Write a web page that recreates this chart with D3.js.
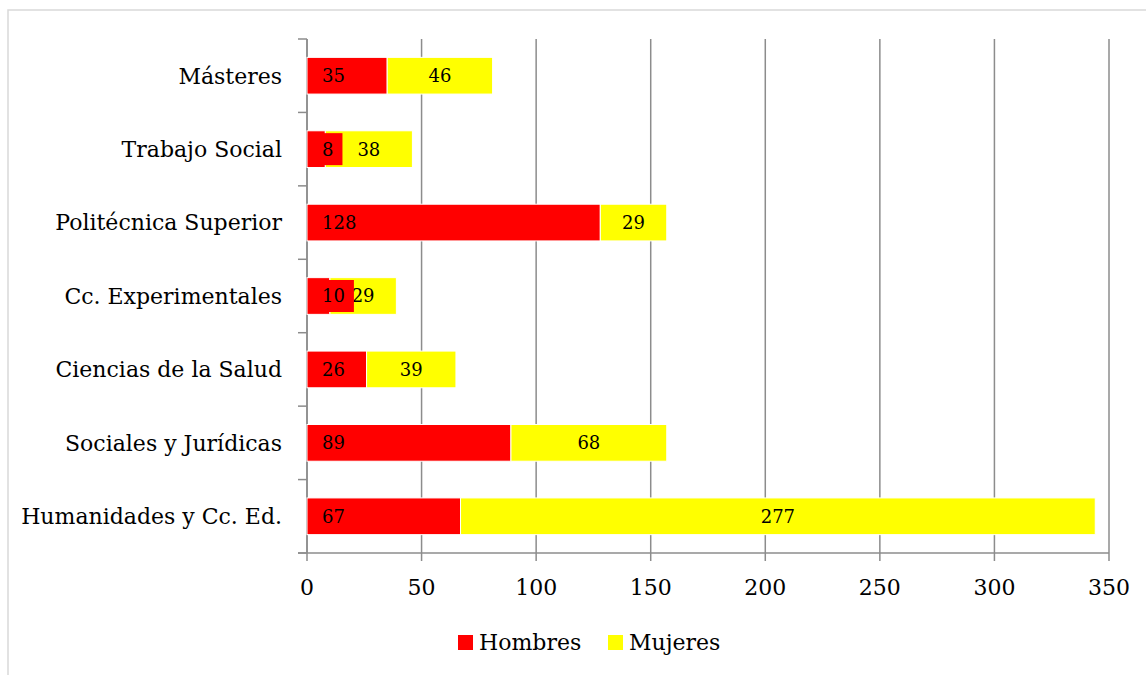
<!DOCTYPE html>
<html>
<head>
<meta charset="utf-8">
<script src="https://cdn.jsdelivr.net/npm/d3@7"></script>
<style>
  body { margin: 0; background: #fff; }
  text { font-family: "DejaVu Serif", serif; fill: #000; }
</style>
</head>
<body>
<svg id="chart" width="1146" height="675"></svg>
<script>
const categories = [
  "Másteres",
  "Trabajo Social",
  "Politécnica Superior",
  "Cc. Experimentales",
  "Ciencias de la Salud",
  "Sociales y Jurídicas",
  "Humanidades y Cc. Ed."
];
const hombres = [35, 8, 128, 10, 26, 89, 67];
const mujeres = [46, 38, 29, 29, 39, 68, 277];
const xTicks = [0, 50, 100, 150, 200, 250, 300, 350];
const seriesNames = ["Hombres", "Mujeres"];
const colors = ["#ff0000", "#ffff00"];

const svg = d3.select("#chart");
const plotLeft = 307, plotRight = 1109, plotTop = 39, plotBottom = 553;
const gridColor = "#8c8c8c";

// outer chart border
svg.append("rect")
  .attr("x", 8).attr("y", 10)
  .attr("width", 1160).attr("height", 700)
  .attr("fill", "none")
  .attr("stroke", "#d9d9d9")
  .attr("stroke-width", 1.5);

const x = d3.scaleLinear().domain([0, 350]).range([plotLeft, plotRight]);
const y = d3.scaleBand()
  .domain(categories)
  .range([plotTop, plotBottom])
  .paddingInner(0.5)
  .paddingOuter(0.25);

// vertical gridlines + x ticks
svg.selectAll(".grid")
  .data(xTicks)
  .join("line")
  .attr("x1", d => x(d)).attr("x2", d => x(d))
  .attr("y1", plotTop).attr("y2", plotBottom + 8)
  .attr("stroke", gridColor)
  .attr("stroke-width", 1.5);

svg.selectAll(".xlab")
  .data(xTicks)
  .join("text")
  .attr("x", d => x(d))
  .attr("y", 595)
  .attr("text-anchor", "middle")
  .attr("font-size", 22)
  .text(d => d);

// x axis line
svg.append("line")
  .attr("x1", plotLeft - 9).attr("x2", plotRight)
  .attr("y1", plotBottom).attr("y2", plotBottom)
  .attr("stroke", gridColor).attr("stroke-width", 1.5);

// y axis line + boundary ticks
svg.append("line")
  .attr("x1", plotLeft).attr("x2", plotLeft)
  .attr("y1", plotTop).attr("y2", plotBottom)
  .attr("stroke", gridColor).attr("stroke-width", 1.5);

svg.selectAll(".ytick")
  .data(d3.range(categories.length + 1))
  .join("line")
  .attr("x1", plotLeft - 9).attr("x2", plotLeft)
  .attr("y1", i => plotTop + i * y.step())
  .attr("y2", i => plotTop + i * y.step())
  .attr("stroke", gridColor).attr("stroke-width", 1.5);

// category labels
svg.selectAll(".ylab")
  .data(categories)
  .join("text")
  .attr("x", 282)
  .attr("y", d => y(d) + y.bandwidth() / 2)
  .attr("dy", "0.36em")
  .attr("text-anchor", "end")
  .attr("font-size", 22)
  .text(d => d);

// stacked data
const rows = categories.map((c, i) => ({ cat: c, Hombres: hombres[i], Mujeres: mujeres[i] }));
const stacked = d3.stack().keys(seriesNames)(rows);

const groups = svg.selectAll(".series")
  .data(stacked)
  .join("g")
  .attr("fill", (d, i) => colors[i]);

groups.selectAll("rect")
  .data(d => d)
  .join("rect")
  .attr("x", d => x(d[0]))
  .attr("y", d => y(d.data.cat))
  .attr("width", d => x(d[1]) - x(d[0]))
  .attr("height", y.bandwidth())
  .attr("stroke", "#fff")
  .attr("stroke-width", 1);

// Mujeres labels, centred in their segment
svg.selectAll(".mlab")
  .data(stacked[1])
  .join("text")
  .attr("x", d => (x(d[0]) + x(d[1])) / 2)
  .attr("y", d => y(d.data.cat) + y.bandwidth() / 2)
  .attr("dy", "0.36em")
  .attr("text-anchor", "middle")
  .attr("font-size", 18)
  .text(d => d.data.Mujeres);

// Hombres labels, at the base with a red label box
const hl = svg.selectAll(".hlab")
  .data(stacked[0])
  .join("g");

hl.append("text")
  .attr("x", plotLeft + 15)
  .attr("y", d => y(d.data.cat) + y.bandwidth() / 2)
  .attr("dy", "0.36em")
  .attr("font-size", 18)
  .text(d => d.data.Hombres);

hl.each(function () {
  const t = d3.select(this).select("text");
  const w = t.node().getComputedTextLength();
  const yy = +t.attr("y");
  d3.select(this).insert("rect", "text")
    .attr("x", plotLeft + 1)
    .attr("y", yy - 16)
    .attr("width", w + 23)
    .attr("height", 32)
    .attr("fill", colors[0]);
});

// legend
const legend = svg.append("g");
const legendItems = [
  { name: seriesNames[0], color: colors[0], x: 458 },
  { name: seriesNames[1], color: colors[1], x: 608 }
];
legend.selectAll("rect")
  .data(legendItems)
  .join("rect")
  .attr("x", d => d.x).attr("y", 635)
  .attr("width", 15).attr("height", 15)
  .attr("fill", d => d.color);
legend.selectAll("text")
  .data(legendItems)
  .join("text")
  .attr("x", d => d.x + 21)
  .attr("y", 650)
  .attr("font-size", 22)
  .text(d => d.name);
</script>
</body>
</html>
